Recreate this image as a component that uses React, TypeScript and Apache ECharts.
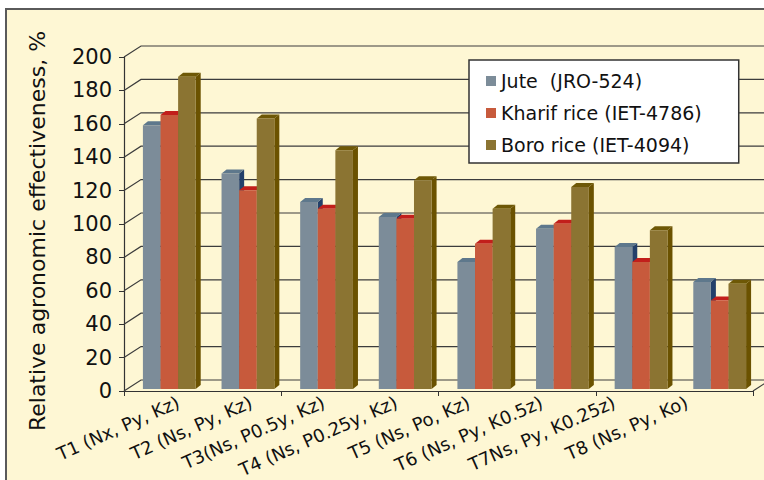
import React, { useEffect, useRef } from 'react';
import * as echarts from 'echarts';

const categories = [
  'T1 (Nx, Py, Kz)',
  'T2 (Ns, Py, Kz)',
  'T3(Ns, P0.5y, Kz)',
  'T4 (Ns, P0.25y, Kz)',
  'T5 (Ns, Po, Kz)',
  'T6 (Ns, Py, K0.5z)',
  'T7Ns, Py, K0.25z)',
  'T8 (Ns, Py, Ko)',
];
const juteValues = [158, 129, 112, 103, 76, 96, 85, 64];
const kharifValues = [164, 119, 108, 102, 87, 99, 76, 53];
const boroValues = [187, 162, 143, 125, 108, 121, 95, 63];
const seriesNames = ['Jute  (JRO-524)', 'Kharif rice (IET-4786)', 'Boro rice (IET-4094)'];
const yTicks = [0, 20, 40, 60, 80, 100, 120, 140, 160, 180, 200];
const yTitle = 'Relative agronomic effectiveness, %';

const FONT = 'DejaVu Sans';
const CREAM = '#FEF7D4';
const WX = 17;
const WY = -11;
const BW = 17.6;
const SD = 5;
const TD = 4;
const BDX = 6;
const BDY = -2;

const palettes = [
  { front: '#7C8C99', top: '#5E788C', side: '#23406A' },
  { front: '#C75A3C', top: '#C21F1B', side: '#9A2A1A' },
  { front: '#8B7432', top: '#6E5806', side: '#6B5200' },
];

function makeBar(k: number) {
  const pal = palettes[k];
  return (params: any, api: any) => {
    const i = api.value(0);
    const v = api.value(1);
    const base = api.coord([i, 0]);
    const top = api.coord([i, v]);
    const cx = base[0] + BDX;
    const x0 = cx - (3 * BW) / 2 + k * BW;
    const yb = base[1] + BDY;
    const yt = top[1] + BDY;
    return {
      type: 'group',
      children: [
        {
          type: 'polygon',
          shape: {
            points: [
              [x0 + BW, yt],
              [x0 + BW + SD, yt - TD],
              [x0 + BW + SD, yb - TD],
              [x0 + BW, yb],
            ],
          },
          style: { fill: pal.side },
        },
        {
          type: 'polygon',
          shape: {
            points: [
              [x0, yt],
              [x0 + BW, yt],
              [x0 + BW + SD, yt - TD],
              [x0 + SD, yt - TD],
            ],
          },
          style: { fill: pal.top },
        },
        {
          type: 'rect',
          shape: { x: x0, y: yt, width: BW, height: yb - yt },
          style: { fill: pal.front },
        },
      ],
    };
  };
}

function renderWall(params: any, api: any) {
  const v = api.value(1);
  const y = api.coord([0, v])[1];
  const cs = params.coordSys;
  const x0 = cs.x;
  const x1 = cs.x + cs.width;
  const children: any[] = [
    {
      type: 'polyline',
      shape: { points: [[x0, y], [x0 + WX, y + WY], [x1 + WX, y + WY]] },
      style: { stroke: '#3c3c3c', lineWidth: 1.2, fill: 'none' },
    },
  ];
  if (v === 0) {
    children.push({
      type: 'line',
      shape: { x1: x1, y1: y, x2: x1 + WX, y2: y + WY },
      style: { stroke: '#3c3c3c', lineWidth: 1.2 },
    });
  }
  return { type: 'group', children };
}

export default function App() {
  const ref = useRef<HTMLDivElement>(null);
  useEffect(() => {
    if (!ref.current) return;
    const chart = echarts.init(ref.current, null, { renderer: 'svg' });
    const valueSets = [juteValues, kharifValues, boroValues];
    chart.setOption({
      animation: false,
      backgroundColor: '#ffffff',
      textStyle: { fontFamily: FONT },
      graphic: [
        {
          type: 'rect',
          z: -100,
          shape: { x: 6, y: 9, width: 820, height: 520 },
          style: { fill: CREAM, stroke: '#5a5a5a', lineWidth: 2 },
        },
        {
          type: 'text',
          x: 37,
          y: 231,
          rotation: Math.PI / 2,
          style: {
            text: yTitle,
            fill: '#111',
            font: `22px "${FONT}"`,
            textAlign: 'center',
            textVerticalAlign: 'middle',
          },
        },
      ],
      legend: {
        data: seriesNames,
        orient: 'vertical',
        left: 469,
        top: 60,
        icon: 'rect',
        itemWidth: 10,
        itemHeight: 10,
        itemGap: 12,
        padding: [11, 37, 8, 17],
        backgroundColor: '#ffffff',
        borderColor: '#333',
        borderWidth: 1.5,
        z: 10,
        textStyle: { fontFamily: FONT, fontSize: 19, color: '#111', lineHeight: 20 },
      },
      grid: [
        { left: 124, top: 57, width: 629, height: 334 },
        { left: 142, top: 57, width: 581, height: 334 },
      ],
      xAxis: [
        {
          type: 'category',
          gridIndex: 0,
          data: categories,
          axisLine: { show: true, lineStyle: { color: '#333', width: 1.2 } },
          axisTick: { show: true, length: 5, lineStyle: { color: '#333' } },
          axisLabel: { show: false },
          splitLine: { show: false },
        },
        {
          type: 'category',
          gridIndex: 1,
          data: categories,
          axisLine: { show: false },
          axisTick: { show: false },
          axisLabel: {
            show: true,
            rotate: 24,
            margin: 24,
            interval: 0,
            fontSize: 18,
            fontFamily: FONT,
            color: '#111',
          },
          splitLine: { show: false },
        },
      ],
      yAxis: [
        {
          type: 'value',
          gridIndex: 0,
          min: 0,
          max: 200,
          interval: 20,
          axisLine: { show: true, lineStyle: { color: '#333', width: 1.2 } },
          axisTick: { show: true, length: 5, lineStyle: { color: '#333' } },
          axisLabel: { fontSize: 21, margin: 12, color: '#111', fontFamily: FONT },
          splitLine: { show: false },
        },
        {
          type: 'value',
          gridIndex: 1,
          min: 0,
          max: 200,
          show: false,
        },
      ],
      series: [
        {
          type: 'custom',
          name: 'wall',
          xAxisIndex: 0,
          yAxisIndex: 0,
          silent: true,
          z: 1,
          renderItem: renderWall,
          data: yTicks.map((v) => [0, v]),
          encode: { x: 0, y: 1 },
        },
        ...seriesNames.map((name, k) => ({
          type: 'custom',
          name,
          xAxisIndex: 0,
          yAxisIndex: 0,
          silent: true,
          z: 3 + k,
          itemStyle: { color: palettes[k].front },
          renderItem: makeBar(k),
          data: valueSets[k].map((v, i) => [i, v]),
          encode: { x: 0, y: 1 },
        })),
      ],
    });
    return () => chart.dispose();
  }, []);
  return (
    <div
      ref={ref}
      style={{ position: 'fixed', left: 0, top: 0, width: 764, height: 480 }}
    />
  );
}
